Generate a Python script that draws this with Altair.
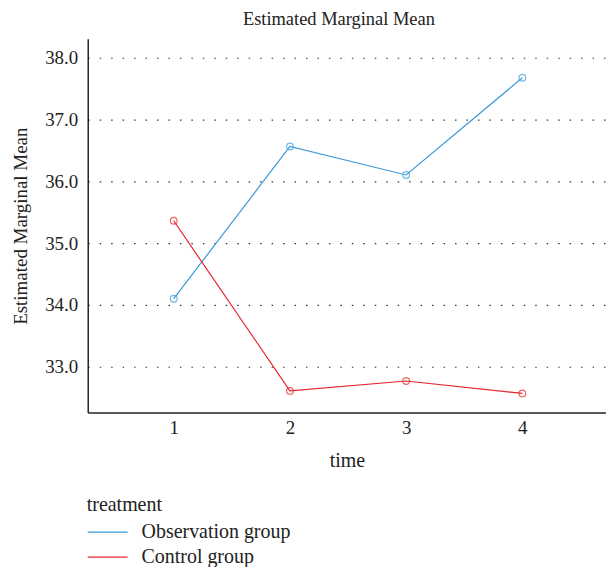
import altair as alt
import pandas as pd

times = [1, 2, 3, 4]
observation = [34.10, 36.56, 36.10, 37.67]
control = [35.36, 32.61, 32.77, 32.57]
groups = ["Observation group", "Control group"]
colors = ["#3b9ad9", "#e8262b"]
y_ticks = [33, 34, 35, 36, 37, 38]

rows = []
for t, v in zip(times, observation):
    rows.append({"time": t, "value": v, "treatment": groups[0]})
for t, v in zip(times, control):
    rows.append({"time": t, "value": v, "treatment": groups[1]})
df = pd.DataFrame(rows)

FONT = "Liberation Serif"

x = alt.X("time:Q", scale=alt.Scale(domain=[0.26, 4.72], nice=False, zero=False),
          axis=alt.Axis(values=times, title="time", grid=False, ticks=False,
                        labelPadding=6, titlePadding=13, format="d",
                        labelFontSize=19, titleFontSize=20))
y = alt.Y("value:Q", scale=alt.Scale(domain=[32.26, 38.3], nice=False, zero=False),
          axis=alt.Axis(values=y_ticks, format=".1f", title="Estimated Marginal Mean",
                        grid=True, ticks=False, labelPadding=10, titlePadding=14,
                        labelFontSize=19, titleFontSize=19,
                        gridDash=[1.5, 10], gridColor="#333333", gridWidth=1.2))

lines = alt.Chart(df).mark_line(strokeWidth=1.2).encode(
    x=x, y=y,
    color=alt.Color("treatment:N", scale=alt.Scale(domain=groups, range=colors),
                    legend=alt.Legend(title="treatment", orient="none",
                                      legendX=-1, legendY=458,
                                      symbolType="M-2,0H2", symbolSize=400,
                                      symbolStrokeWidth=1.2, symbolOffset=10,
                                      labelOffset=23, rowPadding=4)),
    detail="treatment:N",
)
points = alt.Chart(df).mark_point(shape="circle", filled=False, size=45, strokeWidth=1.2).encode(
    x=x, y=y,
    color=alt.Color("treatment:N", scale=alt.Scale(domain=groups, range=colors), legend=None),
)

chart = alt.layer(lines, points).properties(
    width=520, height=375,
    title=alt.TitleParams("Estimated Marginal Mean", font=FONT, fontSize=18.5,
                          fontWeight="normal", color="#222222", offset=10, dx=-8),
    autosize=alt.AutoSizeParams(type="none"),
    padding={"left": 80, "top": 30, "right": 0, "bottom": 154},
).configure_view(stroke=None).configure_axis(
    labelFont=FONT, titleFont=FONT,
    labelColor="#222222", titleColor="#222222", titleFontWeight="normal",
    domainColor="#222222", domainWidth=1.5,
).configure_legend(
    titleFont=FONT, labelFont=FONT, titleFontSize=20, labelFontSize=20,
    titleFontWeight="normal", titleColor="#222222", labelColor="#222222",
    titlePadding=6,
)

chart.save("out.html", embed_options={"renderer": "svg", "actions": False})
